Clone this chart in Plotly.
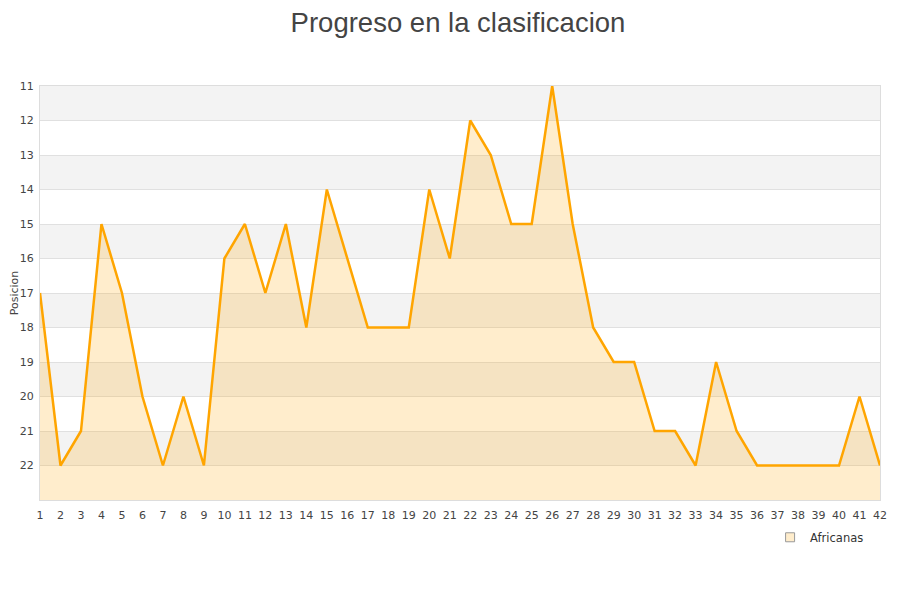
import plotly.graph_objects as go

jornadas = list(range(1, 43))
posicion = [17, 22, 21, 15, 17, 20, 22, 20, 22, 16,
            15, 17, 15, 18, 14, 16, 18, 18, 18, 14,
            16, 12, 13, 15, 15, 11, 15, 18, 19, 19,
            21, 21, 22, 19, 21, 22, 22, 22, 22, 22,
            20, 22]
y_ticks = list(range(11, 23))
fondo = 23
equipo = "Africanas"

fig = go.Figure()

# base line at bottom so the area fills downwards on the reversed axis
fig.add_trace(go.Scatter(x=jornadas, y=[fondo] * len(jornadas), mode="lines",
                         line=dict(width=0), showlegend=False, hoverinfo="skip"))
fig.add_trace(go.Scatter(x=jornadas, y=posicion, mode="lines", name=equipo,
                         line=dict(color="#FFA500", width=2.5),
                         fill="tonexty", fillcolor="rgba(255,165,0,0.2)",
                         showlegend=False))
fig.add_trace(go.Scatter(x=[None], y=[None], mode="markers", name=equipo,
                         marker=dict(symbol="square", size=9, color="#FFEDCC",
                                     line=dict(color="#999999", width=1))))

# alternating bands
shapes = []
for i, t in enumerate(y_ticks):
    if i % 2 == 0:
        shapes.append(dict(type="rect", xref="paper", yref="y", x0=0, x1=1,
                           y0=t, y1=t + 1, fillcolor="#F3F3F3",
                           line=dict(width=0), layer="below"))

# page body adds ~8px offset, margins compensate
fig.update_layout(
    width=900, height=600,
    title=dict(text="Progreso en la clasificacion", x=0.5, y=0.976,
               yanchor="middle", xanchor="center",
               font=dict(family="Liberation Sans, Arial", size=27.5, color="#444444")),
    plot_bgcolor="white", paper_bgcolor="white",
    margin=dict(l=32, r=28, t=78, b=108),
    shapes=shapes,
    font=dict(family="DejaVu Sans", size=11, color="#444444"),
    xaxis=dict(range=[1, 42], tickmode="array", tickvals=jornadas,
               showgrid=False, zeroline=False, showline=True,
               linecolor="#DDDDDD", mirror=True, ticks="outside", ticklen=5,
               tickcolor="rgba(0,0,0,0)", automargin=False),
    yaxis=dict(range=[fondo, 11], tickmode="array", tickvals=y_ticks,
               showgrid=True, gridcolor="#E0E0E0", zeroline=False,
               showline=True, linecolor="#DDDDDD", mirror=True,
               title=dict(text="Posicion", standoff=4, font=dict(size=11)),
               ticks="outside", ticklen=3, tickcolor="rgba(0,0,0,0)",
               automargin=False),
    legend=dict(x=0.987, y=-0.055, xanchor="right", yanchor="top",
                font=dict(size=11.5, color="#333333"), bgcolor="rgba(0,0,0,0)"),
    hovermode="x",
)

fig.write_html("out.html")
